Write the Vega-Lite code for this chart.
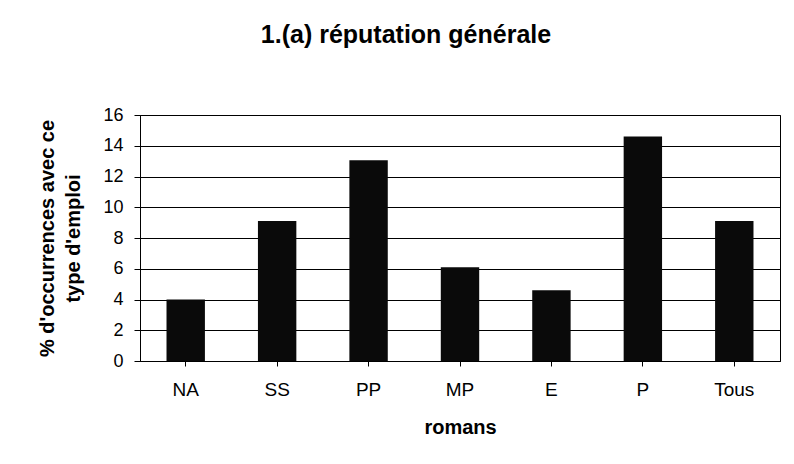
{
  "$schema": "https://vega.github.io/schema/vega-lite/v6.json",
  "width": 640,
  "height": 246,
  "autosize": {"type": "none"},
  "padding": {"left": 140, "top": 115, "right": 14, "bottom": 103},
  "background": "white",
  "title": {
    "text": "1.(a) réputation générale",
    "font": "Liberation Sans",
    "fontSize": 25,
    "fontWeight": "bold",
    "color": "#000",
    "anchor": "middle",
    "dx": -54,
    "offset": 58
  },
  "data": {
    "values": [
      {"roman": "NA", "pct": 4.0},
      {"roman": "SS", "pct": 9.1},
      {"roman": "PP", "pct": 13.05},
      {"roman": "MP", "pct": 6.1},
      {"roman": "E", "pct": 4.6},
      {"roman": "P", "pct": 14.6},
      {"roman": "Tous", "pct": 9.1}
    ]
  },
  "mark": {"type": "bar", "color": "#0a0a0a"},
  "encoding": {
    "x": {
      "field": "roman",
      "type": "nominal",
      "sort": null,
      "scale": {"paddingInner": 0.58, "paddingOuter": 0.29},
      "axis": {
        "title": "romans",
        "titleFont": "Liberation Sans",
        "titleFontSize": 20,
        "titleFontWeight": "bold",
        "titleColor": "#000",
        "titlePadding": 18,
        "labelFont": "Liberation Sans",
        "labelFontSize": 19,
        "labelColor": "#000",
        "labelAngle": 0,
        "labelPadding": 14,
        "domainColor": "#000",
        "tickColor": "#000",
        "tickSize": 5,
        "grid": false
      }
    },
    "y": {
      "field": "pct",
      "type": "quantitative",
      "scale": {"domain": [0, 16], "nice": false},
      "axis": {
        "values": [0, 2, 4, 6, 8, 10, 12, 14, 16],
        "title": ["% d'occurrences avec ce", "type d'emploi"],
        "titleFont": "Liberation Sans",
        "titleFontSize": 20,
        "titleFontWeight": "bold",
        "titleColor": "#000",
        "titlePadding": 19,
        "titleLineHeight": 26,
        "labelFont": "Liberation Sans",
        "labelFontSize": 18,
        "labelColor": "#000",
        "labelPadding": 11,
        "domainColor": "#000",
        "tickColor": "#000",
        "tickSize": 6,
        "grid": true,
        "gridColor": "#000",
        "gridWidth": 1
      }
    }
  },
  "config": {
    "view": {"stroke": "#000", "strokeWidth": 1}
  }
}
